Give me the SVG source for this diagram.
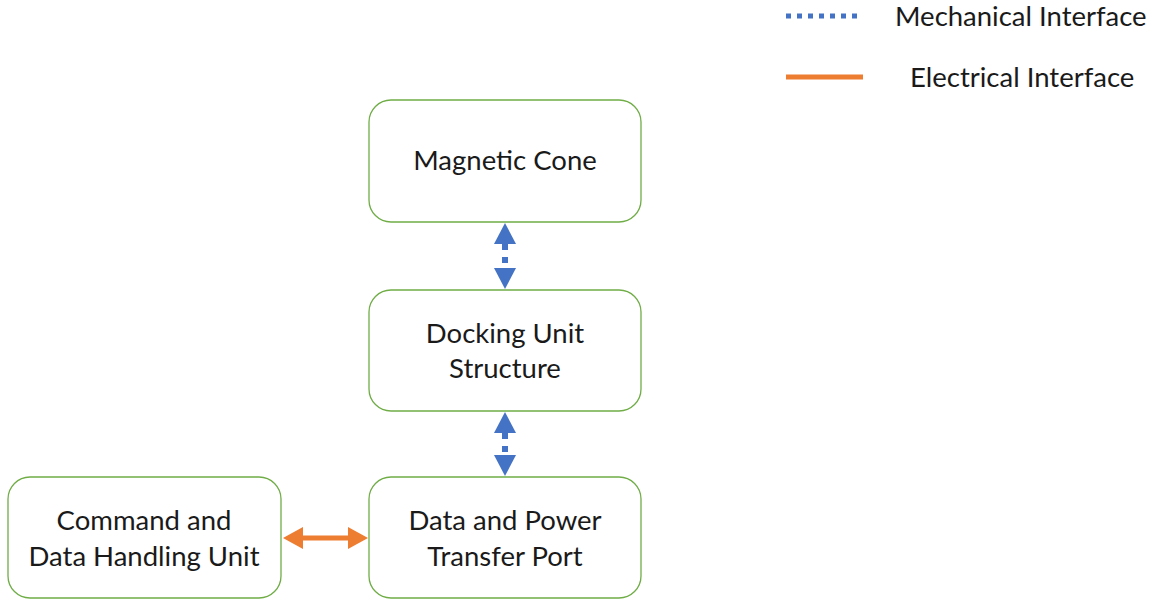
<svg xmlns="http://www.w3.org/2000/svg" width="1157" height="600" viewBox="0 0 1157 600">
<style>
.box{fill:#fff;stroke:#70ad47;stroke-width:1.3}
.t{font-family:Lato,"Open Sans","Liberation Sans",sans-serif;font-size:27.5px;fill:#1a1a1a;text-anchor:middle}
.lt{font-family:Lato,"Open Sans","Liberation Sans",sans-serif;font-size:27.5px;fill:#1a1a1a}
.mech{stroke:#4472c4;stroke-width:6;stroke-dasharray:6 7;fill:none}
.elec{stroke:#ed7d31;stroke-width:5;fill:none}
</style>
<rect width="1157" height="600" fill="#fff"/>
<g id="legend">
<line x1="786" y1="16" x2="863" y2="16" stroke="#4472c4" stroke-width="5" stroke-dasharray="5 6"/>
<text class="lt" x="895" y="26">Mechanical Interface</text>
<line x1="786" y1="77" x2="863" y2="77" stroke="#ed7d31" stroke-width="5"/>
<text class="lt" x="910" y="87">Electrical Interface</text>
</g>
<g id="magnetic-cone">
<rect class="box" x="369" y="100" width="272" height="122" rx="22"/>
<text class="t" x="505" y="170">Magnetic Cone</text>
</g>
<g id="docking-unit">
<rect class="box" x="369" y="290" width="272" height="121" rx="22"/>
<text class="t" x="505" y="343">Docking Unit</text>
<text class="t" x="505" y="378">Structure</text>
</g>
<g id="data-power">
<rect class="box" x="369" y="477" width="272" height="121" rx="22"/>
<text class="t" x="505" y="530">Data and Power</text>
<text class="t" x="505" y="566">Transfer Port</text>
</g>
<g id="cdhu">
<rect class="box" x="8" y="477" width="273" height="121" rx="22"/>
<text class="t" x="144" y="530">Command and</text>
<text class="t" x="144" y="566">Data Handling Unit</text>
</g>
<g id="connectors">
<polygon points="505,223 494,244 516,244" fill="#4472c4"/>
<line class="mech" x1="505" y1="244" x2="505" y2="268"/>
<polygon points="505,289 494,268 516,268" fill="#4472c4"/>
<polygon points="505,412 494,433 516,433" fill="#4472c4"/>
<line class="mech" x1="505" y1="433" x2="505" y2="455"/>
<polygon points="505,476 494,455 516,455" fill="#4472c4"/>
<line class="elec" x1="300" y1="538" x2="350" y2="538"/>
<polygon points="283,538 303,527 303,549" fill="#ed7d31"/>
<polygon points="368,538 348,527 348,549" fill="#ed7d31"/>
</g>
</svg>
